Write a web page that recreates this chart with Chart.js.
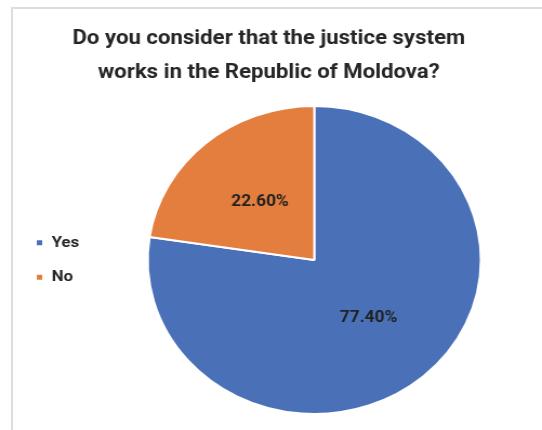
<!DOCTYPE html>
<html>
<head>
<meta charset="utf-8">
<script src="https://cdn.jsdelivr.net/npm/chart.js@4.4.1/dist/chart.umd.min.js"></script>
<style>
    html, body { margin: 0; padding: 0; background: #fff; }
    #wrap { position: relative; width: 542px; height: 430px; overflow: hidden; }
    #frame {
        position: absolute; left: 11px; top: 7px; right: 0; bottom: 0;
        border-left: 2px solid #dcdcdc; border-top: 2px solid #dcdcdc;
    }
    #justiceChart {
        position: absolute; left: 0; top: 0;
        transform: scaleX(1.0818); transform-origin: 0 0;
    }
</style>
</head>
<body>
<div id="wrap">
    <div id="frame"></div>
    <canvas id="justiceChart" width="501" height="430"></canvas>
</div>
<script>
// ================================
// Survey data
// ================================
const answers = ['Yes', 'No'];
const shares = [77.4, 22.6];
const sliceColors = ['#4A71B8', '#E47E3E'];
const titleLines = ['Do you consider that the justice system', 'works in the Republic of Moldova?'];

const TEXT_COLOR = '#262626';

// ================================
// Percentage labels in the middle of each slice
// ================================
const sliceLabels = {
    id: 'sliceLabels',
    afterDatasetsDraw(chart) {
        const ctx = chart.ctx;
        const meta = chart.getDatasetMeta(0);
        ctx.save();
        ctx.font = 'bold 16px Roboto';
        ctx.fillStyle = '#222';
        ctx.textAlign = 'center';
        ctx.textBaseline = 'middle';
        meta.data.forEach((arc, i) => {
            const pos = arc.tooltipPosition();
            ctx.fillText(shares[i].toFixed(2) + '%', pos.x, pos.y);
        });
        ctx.restore();
    }
};

// legend column is a bit wider than Chart.js makes it
const legendWidth = {
    id: 'legendWidth',
    beforeInit(chart) {
        const fit = chart.legend.fit;
        chart.legend.fit = function () {
            fit.bind(chart.legend)();
            this.width = 84;
        };
    }
};

new Chart(document.getElementById('justiceChart'), {
    type: 'pie',
    data: {
        labels: answers,
        datasets: [{
            data: shares,
            backgroundColor: sliceColors,
            borderColor: '#ffffff',
            borderWidth: 2
        }]
    },
    options: {
        responsive: false,
        animation: false,
        devicePixelRatio: 1,
        layout: { padding: { left: 14, right: 18, top: 0, bottom: 15 } },
        plugins: {
            title: {
                display: true,
                text: titleLines,
                color: TEXT_COLOR,
                font: { family: 'Roboto', size: 20.5, weight: 'bold', lineHeight: 1.66 },
                padding: { top: 22, bottom: 15 }
            },
            legend: {
                position: 'left',
                fullSize: false,
                labels: {
                    boxWidth: 7,
                    boxHeight: 7,
                    padding: 19,
                    color: TEXT_COLOR,
                    font: { family: 'Roboto', size: 15.5, weight: 'bold' }
                }
            },
            tooltip: { enabled: false }
        }
    },
    plugins: [sliceLabels, legendWidth]
});
</script>
</body>
</html>
